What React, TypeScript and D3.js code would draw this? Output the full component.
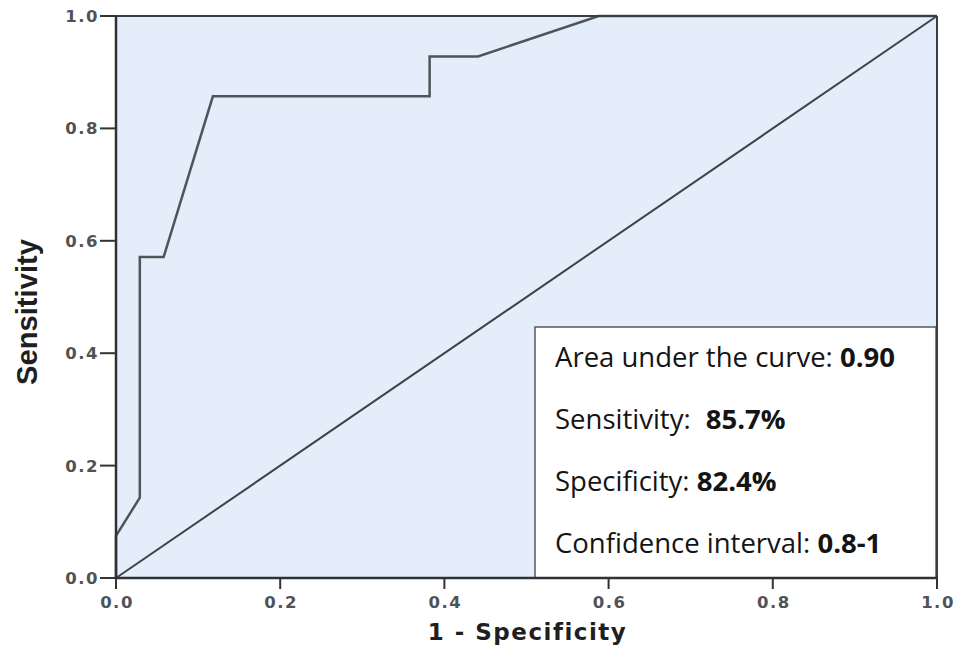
import React from "react";
import { scaleLinear, line } from "d3";

// ROC curve points (1 - specificity, sensitivity)
const fpr = [0, 0, 0.029, 0.029, 0.058, 0.118, 0.382, 0.382, 0.441, 0.588, 1.0];
const tpr = [0, 0.075, 0.143, 0.571, 0.571, 0.857, 0.857, 0.928, 0.928, 1.0, 1.0];
const ticks = [0, 0.2, 0.4, 0.6, 0.8, 1.0];

const statLabels = ["Area under the curve: ", "Sensitivity: ", "Specificity: ", "Confidence interval: "];
const statValues = ["0.90", "85.7%", "82.4%", "0.8-1"];
const statGap = [0, 8, 0, 0]; // the extra space before 85.7%

const width = 956;
const height = 647;
const margin = { left: 116, right: 19, top: 16, bottom: 69 };

const tickStyle = {
  fontFamily: "'DejaVu Sans', sans-serif",
  fontWeight: "bold",
  fontSize: "16.5px",
  fill: "#505356",
  letterSpacing: "1.5px",
};

export default function App() {
  const xScale = scaleLinear().domain([0, 1]).range([margin.left, width - margin.right]);
  const yScale = scaleLinear().domain([0, 1]).range([height - margin.bottom, margin.top]);

  const pts: [number, number][] = fpr.map((d, i) => [d, tpr[i]]);
  const rocLine = line<[number, number]>()
    .x((d) => xScale(d[0]))
    .y((d) => yScale(d[1]));

  const x0 = xScale(0);
  const x1 = xScale(1);
  const y0 = yScale(0);
  const y1 = yScale(1);

  // legend box
  const boxLeft = 535;
  const boxTop = 327;

  return (
    <svg
      width={width}
      height={height}
      style={{ position: "absolute", left: 0, top: 0, background: "#fff" }}
    >
      <rect x={x0} y={y1} width={x1 - x0} height={y0 - y1} fill="#e4eefa" />
      {/* diagonal reference */}
      <line x1={x0} y1={y0} x2={x1} y2={y1} stroke="#3f4247" strokeWidth={2} />
      <path d={rocLine(pts) || ""} fill="none" stroke="#50545a" strokeWidth={2.5} />

      <rect
        x={boxLeft}
        y={boxTop}
        width={x1 - 1 - boxLeft}
        height={y0 - boxTop}
        fill="#ffffff"
        stroke="#55585c"
        strokeWidth={1.5}
      />
      {statLabels.map((lab, i) => (
        <text
          key={lab}
          x={boxLeft + 20}
          y={367 + i * 62}
          style={{ fontFamily: "'Open Sans', sans-serif", fontSize: "27.5px", fill: "#141414" }}
        >
          <tspan>{lab}</tspan>
          <tspan dx={statGap[i]} fontWeight="bold">{statValues[i]}</tspan>
        </text>
      ))}

      {/* frame */}
      <line x1={x0} y1={y1} x2={x1} y2={y1} stroke="#3a3d42" strokeWidth={2} />
      <line x1={x1} y1={y1} x2={x1} y2={y0} stroke="#3a3d42" strokeWidth={2} />
      <line x1={x0} y1={y1} x2={x0} y2={y0} stroke="#2e3136" strokeWidth={2.5} />
      <line x1={x0} y1={y0} x2={x1} y2={y0} stroke="#2e3136" strokeWidth={2.5} />

      {ticks.map((t) => (
        <g key={"y" + t} transform={`translate(${x0}, ${yScale(t)})`}>
          <line x1={-16} x2={0} stroke="#333" strokeWidth={2} />
          <text x={-17} dy="0.36em" textAnchor="end" style={tickStyle}>
            {t.toFixed(1)}
          </text>
        </g>
      ))}
      {ticks.map((t) => (
        <g key={"x" + t} transform={`translate(${xScale(t)}, ${y0})`}>
          <line y1={0} y2={11} stroke="#333" strokeWidth={2} />
          <text x={1} y={24} dy="0.36em" textAnchor="middle" style={tickStyle}>
            {t.toFixed(1)}
          </text>
        </g>
      ))}

      <text
        x={(x0 + x1) / 2 + 1}
        y={640}
        textAnchor="middle"
        style={{ fontFamily: "'DejaVu Sans', sans-serif", fontWeight: "bold", fontSize: "23px", fill: "#1f1f1f", letterSpacing: "1.5px" }}
      >
        1 - Specificity
      </text>
      <text
        transform={`translate(37, 312) rotate(-90)`}
        textAnchor="middle"
        textLength={146}
        lengthAdjust="spacingAndGlyphs"
        style={{ fontFamily: "'Liberation Sans', Arial, sans-serif", fontWeight: "bold", fontSize: "29px", fill: "#1f1f1f" }}
      >
        Sensitivity
      </text>
    </svg>
  );
}
